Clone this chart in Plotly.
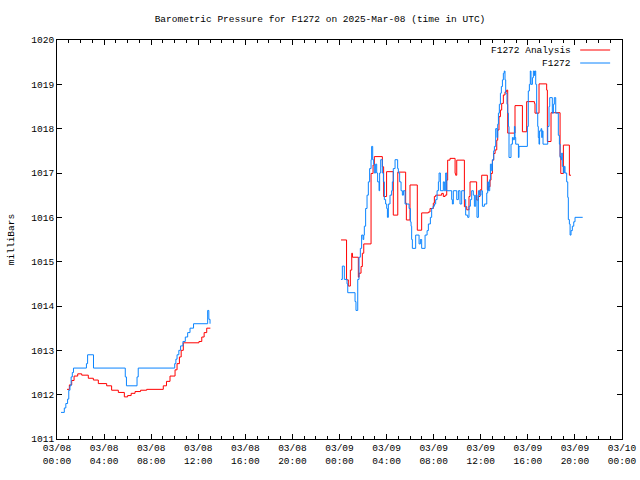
import pandas as pd
import plotly.graph_objects as go

BASE = pd.Timestamp("2025-03-08 00:00")

# Observed pressure (hours after 2025-03-08 00:00 UTC, mbar); None marks the data gap
obs_hours = [
    0.34, 0.62, 0.75, 0.9, 1.0, 1.1, 1.2, 1.3, 1.4, 2.5, 2.6, 3.1, 5.8, 5.9, 6.8, 6.9,
    10.0, 10.1, 10.2, 10.35, 10.5, 10.7, 10.9, 11.1, 11.3, 11.6, 12.8, 12.9, 13.0,
    18.0,
    24.13, 24.24, 24.41, 24.64, 24.7, 25.32, 25.4, 25.55, 25.66, 25.77, 25.88, 26.0, 26.06,
    26.11, 26.22, 26.34, 26.45, 26.56, 26.68, 26.73, 26.82, 26.9, 26.96, 27.07, 27.16, 27.24,
    27.36, 27.41, 27.5, 27.64, 27.73, 27.81, 27.92, 28.01, 28.07, 28.15, 28.29, 28.43, 28.49,
    28.57, 28.72, 28.94, 29.0, 29.11, 29.23, 29.34, 29.43, 29.57, 29.91, 30.02, 30.08, 30.13,
    30.19, 30.47, 30.76, 30.87, 30.98, 31.27, 31.44, 31.55, 31.72, 31.83, 31.95, 32.06, 32.17,
    32.29, 32.4, 32.46, 32.57, 32.82, 32.91, 33.02, 33.11, 33.53, 33.59, 33.67, 33.96, 34.1,
    34.24, 34.38, 34.61, 34.72, 34.89, 35.0, 35.12, 35.23, 35.37, 35.46, 35.57, 35.68, 35.8,
    35.91, 36.02, 36.14, 36.31, 36.51, 36.59, 36.65, 36.76, 36.82, 36.93, 36.99, 37.1, 37.16,
    37.27, 37.38, 37.44, 37.5, 37.58, 37.67, 37.75, 37.84, 37.92, 38.0, 38.06, 38.12, 38.23,
    38.29, 38.35, 38.4, 38.57, 38.69, 38.77, 38.86, 38.91, 38.97, 39.2, 39.25, 39.96, 40.04,
    40.13, 40.21, 40.27, 40.39, 40.47, 40.56, 40.61, 40.67, 40.75, 40.84, 40.89, 40.95, 41.0,
    41.12, 41.18, 41.23, 41.29, 41.69, 41.8, 41.86, 42.08, 42.17, 42.25, 42.37, 42.59, 42.68,
    42.74, 42.82, 42.88, 42.93, 43.02, 43.1, 43.16, 43.3, 43.39, 43.44, 43.53, 43.59, 43.67,
    43.78, 43.9, 44.01, 44.66,
]
obs_mbar = [
    1011.6, 1011.7, 1011.8, 1011.9, 1012.1, 1012.2, 1012.4, 1012.5, 1012.6, 1012.7, 1012.9,
    1012.6, 1012.4, 1012.2, 1012.4, 1012.6, 1012.7, 1012.8, 1012.9, 1013.0, 1013.1, 1013.2,
    1013.3, 1013.4, 1013.5, 1013.6, 1013.9, 1013.7, 1013.6,
    None,
    1014.6, 1014.9, 1014.6, 1014.5, 1014.3, 1014.1, 1013.9, 1014.6, 1015.1, 1015.3, 1015.6,
    1015.5, 1015.6, 1015.8, 1016.2, 1016.5, 1016.8, 1017.1, 1017.3, 1017.6, 1017.3, 1017.2,
    1017.0, 1017.2, 1017.0, 1016.8, 1016.6, 1017.0, 1017.3, 1017.0, 1016.8, 1016.4, 1016.3,
    1016.2, 1016.0, 1016.3, 1016.5, 1016.6, 1016.8, 1017.1, 1017.3, 1017.1, 1017.0, 1016.8,
    1016.6, 1016.5, 1016.6, 1016.3, 1016.2, 1015.9, 1015.8, 1015.5, 1015.3, 1015.6, 1015.4,
    1015.5, 1015.3, 1015.6, 1015.7, 1015.85, 1016.0, 1016.2, 1016.25, 1016.3, 1016.4, 1016.6,
    1016.8, 1017.0, 1016.6, 1016.8, 1016.6, 1017.0, 1016.6, 1016.4, 1016.3, 1016.6, 1016.4,
    1016.6, 1016.3, 1016.6, 1016.4, 1016.05, 1016.0, 1016.25, 1016.4, 1016.6, 1016.5, 1016.25,
    1016.5, 1016.0, 1016.6, 1016.5, 1016.6, 1016.25, 1016.3, 1016.55, 1016.8, 1016.6, 1016.85,
    1017.2, 1017.05, 1017.3, 1017.5, 1017.6, 1018.0, 1017.8, 1018.1, 1018.35, 1018.55, 1018.8,
    1018.95, 1019.1, 1019.25, 1019.3, 1019.1, 1018.8, 1018.55, 1018.35, 1018.05, 1017.35,
    1017.65, 1017.8, 1017.75, 1018.05, 1017.8, 1017.65, 1017.35, 1017.6, 1018.05, 1018.85,
    1019.0, 1019.3, 1019.0, 1019.15, 1019.3, 1019.2, 1019.3, 1019.0, 1018.35, 1018.05, 1017.8,
    1017.65, 1017.95, 1018.0, 1017.8, 1017.95, 1017.65, 1018.05, 1018.5, 1018.7, 1018.35,
    1018.55, 1018.7, 1018.35, 1017.85, 1017.65, 1017.35, 1017.3, 1017.45, 1017.15, 1017.0,
    1017.15, 1017.0, 1016.8, 1016.45, 1015.95, 1015.85, 1015.6, 1015.7, 1015.8, 1015.9,
    1016.0, 1016.0,
]

# Analysis pressure
ana_hours = [
    0.85, 1.05, 1.25, 1.45, 1.76, 2.1, 2.66, 3.09, 3.51, 4.22, 4.64, 5.21, 5.72, 6.0, 6.3,
    6.63, 7.1, 7.62, 9.03, 9.3, 9.6, 10.03, 10.2, 10.4, 10.55, 10.73, 12.06, 12.3, 12.5,
    12.72, 13.03,
    18.0,
    24.13, 24.6, 24.75, 24.92, 25.04, 25.1, 25.6, 25.66, 25.83, 25.94, 26.06, 26.68, 26.85,
    26.96, 27.64, 27.75, 28.0, 28.57, 28.95, 29.62, 29.68, 29.99, 30.61, 30.98, 31.55, 31.69,
    31.97, 32.06, 32.17, 32.68, 32.82, 32.97, 33.11, 33.19, 33.39, 33.82, 33.87, 33.96, 34.61,
    34.81, 35.0, 35.09, 35.65, 35.8, 35.94, 36.08, 36.56, 36.65, 36.79, 36.87, 36.99, 37.1,
    37.22, 37.36, 37.44, 37.55, 37.67, 37.78, 37.92, 38.06, 38.2, 38.29, 38.91, 39.54, 39.9,
    40.56, 40.61, 40.95, 41.6, 41.66, 41.97, 42.74, 42.8, 43.02, 43.53, 43.67,
]
ana_mbar = [
    1012.12, 1012.22, 1012.32, 1012.42, 1012.47, 1012.44, 1012.37, 1012.33, 1012.25, 1012.2,
    1012.1, 1012.05, 1011.95, 1011.98, 1012.03, 1012.07, 1012.1, 1012.12, 1012.2, 1012.3,
    1012.42, 1012.56, 1012.7, 1012.85, 1013.0, 1013.17, 1013.2, 1013.3, 1013.4, 1013.5,
    1013.5,
    None,
    1015.49, 1014.59, 1014.45, 1014.81, 1015.19, 1015.1, 1014.65, 1014.74, 1014.89, 1015.19,
    1015.4, 1016.99, 1017.18, 1017.37, 1017.14, 1016.47, 1017.03, 1016.05, 1017.02, 1016.32,
    1015.94, 1016.73, 1015.71, 1016.1, 1016.12, 1016.2, 1016.32, 1016.47, 1016.5, 1016.54,
    1016.47, 1016.5, 1016.84, 1017.29, 1017.33, 1016.99, 1016.95, 1017.29, 1016.24, 1016.17,
    1016.47, 1016.8, 1016.39, 1016.47, 1016.62, 1016.95, 1016.62, 1016.69, 1016.84, 1016.99,
    1017.29, 1017.44, 1017.52, 1017.74, 1017.97, 1018.27, 1018.42, 1018.57, 1018.76, 1018.83,
    1018.87, 1017.9, 1018.52, 1017.93, 1018.61, 1018.57, 1018.35, 1019.01, 1018.87, 1017.71,
    1018.36, 1017.37, 1016.99, 1017.63, 1016.95, 1016.95,
]

series_names = ["F1272 Analysis", "F1272"]
series_colors = ["#ff0000", "#0a84ff"]

TITLE = "Barometric Pressure for F1272 on 2025-Mar-08 (time in UTC)"
Y_LABEL = "milliBars"
FONT = "Liberation Mono"
FS = 9.5


def to_times(hours):
    return [BASE + pd.Timedelta(hours=h) for h in hours]


fig = go.Figure()
for name, color, hrs, vals in [
    (series_names[0], series_colors[0], ana_hours, ana_mbar),
    (series_names[1], series_colors[1], obs_hours, obs_mbar),
]:
    fig.add_trace(go.Scatter(
        x=to_times(hrs), y=vals, mode="lines", name=name,
        line=dict(color=color, width=1, shape="hv"), connectgaps=False,
    ))

# gnuplot-style key: text right-aligned, line sample to its right
for i, (name, color) in enumerate(zip(series_names, series_colors)):
    ypos = 1 - (10 + 13 * i) / 399.0
    fig.add_annotation(
        x=0.913, y=ypos, xref="paper", yref="paper", text=name, showarrow=False,
        xanchor="right", yanchor="middle", font=dict(family=FONT, size=FS, color="black"),
    )
    fig.add_shape(
        type="line", xref="paper", yref="paper", x0=0.926, x1=0.979, y0=ypos, y1=ypos,
        line=dict(color=color, width=1),
    )

axis_common = dict(
    showline=True, linecolor="black", linewidth=1, mirror="ticks",
    ticks="inside", ticklen=5, tickcolor="black", tickwidth=1,
    showgrid=False, zeroline=False, automargin=False,
    tickfont=dict(family=FONT, size=FS, color="black"),
)

fig.update_layout(
    width=640, height=480,
    margin=dict(l=57, r=18, t=40, b=41),
    paper_bgcolor="white", plot_bgcolor="white",
    showlegend=False,
    title=dict(text=TITLE, x=0.5, xanchor="center", y=1 - 19 / 480, yref="container",
               yanchor="middle", font=dict(family=FONT, size=FS, color="black")),
    xaxis=dict(
        type="date", range=[BASE, BASE + pd.Timedelta(hours=48)],
        tick0=BASE, dtick=4 * 3600 * 1000, tickformat="%m/%d<br>%H:%M",
        minor=dict(ticks="inside", ticklen=3, dtick=3600 * 1000, tick0=BASE,
                   tickcolor="black", showgrid=False),
        **axis_common,
    ),
    yaxis=dict(
        range=[1011, 1020], dtick=1, tick0=1011,
        title=dict(text=Y_LABEL, font=dict(family=FONT, size=FS, color="black"), standoff=14),
        **axis_common,
    ),
)

fig.write_html("out.html", config={"displayModeBar": False},
               post_script="document.body.style.margin='0';")
